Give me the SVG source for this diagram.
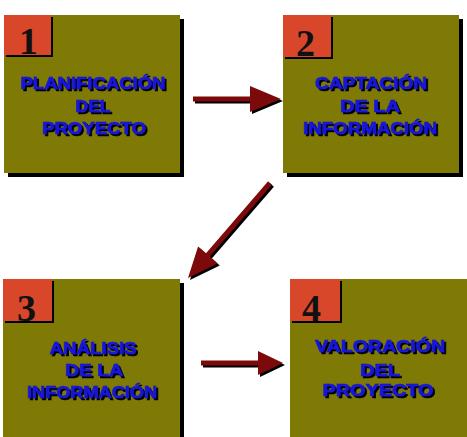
<svg xmlns="http://www.w3.org/2000/svg" width="467" height="437" viewBox="0 0 467 437">
<defs>
<filter id="tsh" x="-10%" y="-30%" width="120%" height="160%">
<feOffset in="SourceAlpha" dx="2" dy="2" result="o"/>
<feMerge><feMergeNode in="o"/><feMergeNode in="SourceGraphic"/></feMerge>
</filter>
</defs>
<style>
.box{fill:#7f7a06}
.sh{fill:#000}
.num{fill:#d9472b}
.dig{font-family:"Liberation Serif",serif;font-weight:bold;font-size:38px;fill:#111}
.lbl{font-family:"Liberation Sans",Arial,sans-serif;font-weight:bold;font-size:17px;text-anchor:middle;fill:#1616d8;stroke:#1616d8;stroke-width:0.7}
.arr{fill:#7d0a0a}
.arrsh{fill:#000}
</style>
<rect width="467" height="437" fill="#fff"/>
<g id="node1">
<rect class="sh" x="8" y="19" width="176" height="158"/>
<rect class="box" x="4" y="15" width="176" height="158"/>
<rect class="sh" x="6" y="17" width="47" height="40"/>
<rect class="num" x="4" y="15" width="47" height="40"/>
<text class="dig" x="19" y="54">1</text>
<g filter="url(#tsh)">
<text class="lbl" x="93" y="89" textLength="145" lengthAdjust="spacingAndGlyphs">PLANIFICACIÓN</text>
<text class="lbl" x="93" y="112" textLength="35" lengthAdjust="spacingAndGlyphs">DEL</text>
<text class="lbl" x="94" y="134" textLength="104" lengthAdjust="spacingAndGlyphs">PROYECTO</text>
</g>
</g>
<g id="node2">
<rect class="sh" x="287" y="19" width="176" height="158"/>
<rect class="box" x="283" y="15" width="176" height="158"/>
<rect class="sh" x="285" y="17" width="48" height="42"/>
<rect class="num" x="283" y="15" width="48" height="42"/>
<text class="dig" x="296" y="56">2</text>
<g filter="url(#tsh)">
<text class="lbl" x="371" y="89" textLength="112" lengthAdjust="spacingAndGlyphs">CAPTACIÓN</text>
<text class="lbl" x="370" y="112" textLength="60" lengthAdjust="spacingAndGlyphs">DE LA</text>
<text class="lbl" x="370" y="134" textLength="134" lengthAdjust="spacingAndGlyphs">INFORMACIÓN</text>
</g>
</g>
<g id="node3">
<rect class="sh" x="7" y="283" width="177" height="160"/>
<rect class="box" x="3" y="279" width="177" height="160"/>
<rect class="sh" x="5" y="281" width="49" height="42"/>
<rect class="num" x="3" y="279" width="49" height="42"/>
<text class="dig" x="17" y="321">3</text>
<g filter="url(#tsh)">
<text class="lbl" x="93" y="354" textLength="87" lengthAdjust="spacingAndGlyphs">ANÁLISIS</text>
<text class="lbl" x="94" y="376" textLength="58" lengthAdjust="spacingAndGlyphs">DE LA</text>
<text class="lbl" x="92" y="398" textLength="130" lengthAdjust="spacingAndGlyphs">INFORMACIÓN</text>
</g>
</g>
<g id="node4">
<rect class="sh" x="294" y="283" width="177" height="160"/>
<rect class="box" x="290" y="279" width="177" height="160"/>
<rect class="sh" x="292" y="281" width="50" height="42"/>
<rect class="num" x="290" y="279" width="50" height="42"/>
<text class="dig" x="302" y="321">4</text>
<g filter="url(#tsh)">
<text class="lbl" x="380" y="352" textLength="130" lengthAdjust="spacingAndGlyphs">VALORACIÓN</text>
<text class="lbl" x="380" y="376" textLength="40" lengthAdjust="spacingAndGlyphs">DEL</text>
<text class="lbl" x="378" y="396" textLength="111" lengthAdjust="spacingAndGlyphs">PROYECTO</text>
</g>
</g>
<g id="connectors">
<g transform="translate(195,101)"><polygon class="arrsh" points="0,-2.5 57,-2.5 57,-13 88,0 57,13 57,2.5 0,2.5"/></g>
<g transform="translate(193,99)"><polygon class="arr" points="0,-2.5 57,-2.5 57,-13 88,0 57,13 57,2.5 0,2.5"/></g>
<g transform="translate(272,185) rotate(130.8)"><polygon class="arrsh" points="0,-2.5 95,-2.5 95,-13 125.5,0 95,13 95,2.5 0,2.5"/></g>
<g transform="translate(270,183) rotate(130.8)"><polygon class="arr" points="0,-2.5 95,-2.5 95,-13 125.5,0 95,13 95,2.5 0,2.5"/></g>
<g transform="translate(203,365)"><polygon class="arrsh" points="0,-2.5 57,-2.5 57,-12 82,0 57,12 57,2.5 0,2.5"/></g>
<g transform="translate(201,363)"><polygon class="arr" points="0,-2.5 57,-2.5 57,-12 82,0 57,12 57,2.5 0,2.5"/></g>
</g>
</svg>
